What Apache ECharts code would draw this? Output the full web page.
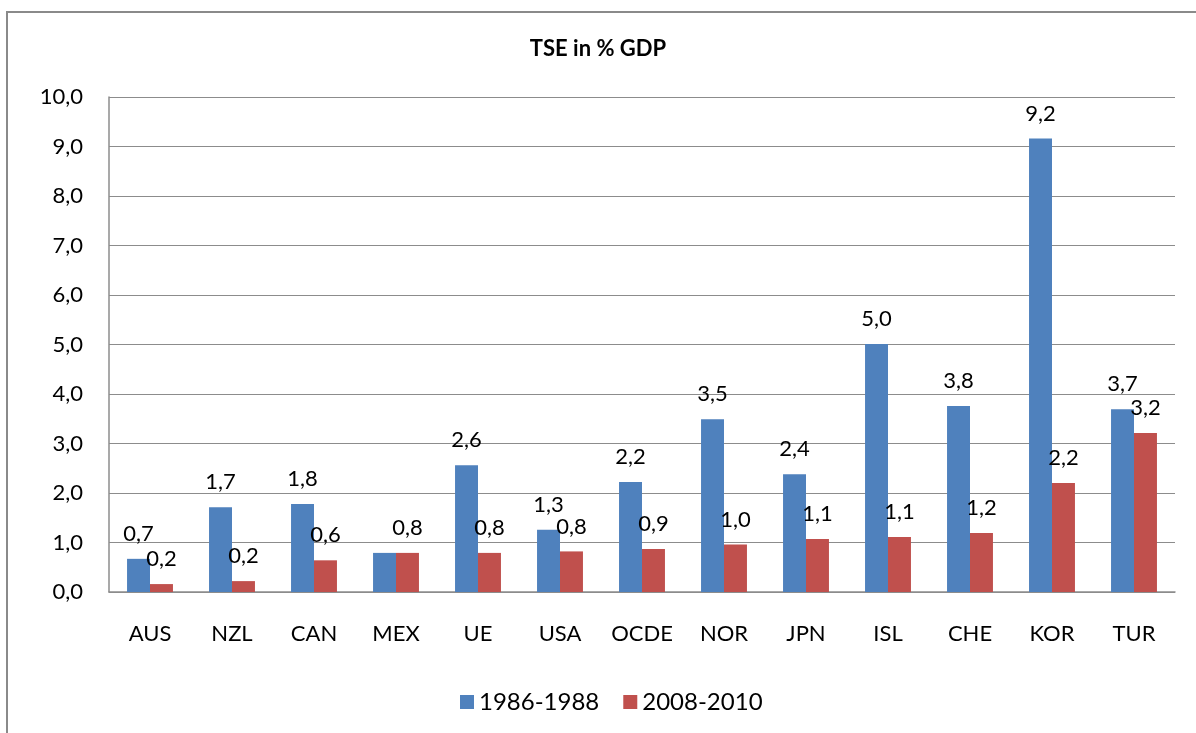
<!DOCTYPE html>
<html>
<head>
<meta charset="utf-8">
<script src="https://cdn.jsdelivr.net/npm/echarts@6/dist/echarts.min.js"></script>
<style>
html,body{margin:0;padding:0;background:#fff;}
#chart{width:1196px;height:733px;}
</style>
</head>
<body>
<div id="chart"></div>
<script>
const categories = ['AUS','NZL','CAN','MEX','UE','USA','OCDE','NOR','JPN','ISL','CHE','KOR','TUR'];
const series1986 = [0.67, 1.71, 1.78, 0.79, 2.56, 1.26, 2.22, 3.49, 2.38, 5.01, 3.76, 9.16, 3.69];
const series2008 = [0.16, 0.22, 0.64, 0.79, 0.79, 0.82, 0.87, 0.96, 1.07, 1.11, 1.19, 2.20, 3.21];
const hiddenLabels1986 = ['MEX'];
const yTicks = {min: 0, max: 10, interval: 1};

const FONT = 'Lato, "Open Sans", sans-serif';
const fmt = v => Number(v).toFixed(1).replace('.', ',');

const chart = echarts.init(document.getElementById('chart'));
chart.setOption({
  animation: false,
  backgroundColor: '#fff',
  graphic: [{
    type: 'rect',
    shape: {x: 7, y: 12, width: 1400, height: 900},
    style: {fill: 'none', stroke: '#8a8a8a', lineWidth: 2},
    silent: true
  }],
  title: {
    text: 'TSE in % GDP',
    left: 'center',
    top: 33,
    textStyle: {fontFamily: FONT, fontWeight: 'bold', fontSize: 22, color: '#000'}
  },
  legend: {
    bottom: 14,
    left: 455,
    itemWidth: 14,
    itemHeight: 14,
    itemGap: 24,
    icon: 'rect',
    textStyle: {fontFamily: FONT, fontSize: 24, color: '#000'},
    data: ['1986-1988', '2008-2010']
  },
  grid: {left: 109, right: 21, top: 97, bottom: 141, containLabel: false},
  xAxis: {
    type: 'category',
    data: categories,
    axisLine: {lineStyle: {color: '#8c8c8c', width: 1.5}},
    axisTick: {show: false},
    axisLabel: {fontFamily: FONT, fontSize: 22, color: '#000', margin: 31}
  },
  yAxis: {
    type: 'value',
    min: yTicks.min, max: yTicks.max, interval: yTicks.interval,
    axisLine: {show: true, lineStyle: {color: '#8c8c8c', width: 1.5}},
    axisTick: {show: false},
    splitLine: {lineStyle: {color: '#8c8c8c', width: 1.2}},
    axisLabel: {fontFamily: FONT, fontSize: 22, color: '#000', margin: 26,
                formatter: v => fmt(v)}
  },
  series: [
    {
      name: '1986-1988',
      type: 'bar',
      barGap: '0%',
      barCategoryGap: '44%',
      itemStyle: {color: '#4f81bd'},
      label: {show: true, position: 'top', distance: 14, fontFamily: FONT, fontSize: 22, color: '#000',
              formatter: p => fmt(p.value)},
      data: series1986.map((v, i) => hiddenLabels1986.includes(categories[i]) ? {value: v, label: {show: false}} : v)
    },
    {
      name: '2008-2010',
      type: 'bar',
      itemStyle: {color: '#c0504d'},
      label: {show: true, position: 'top', distance: 14, fontFamily: FONT, fontSize: 22, color: '#000',
              formatter: p => fmt(p.value)},
      data: series2008
    }
  ]
});
</script>
</body>
</html>
